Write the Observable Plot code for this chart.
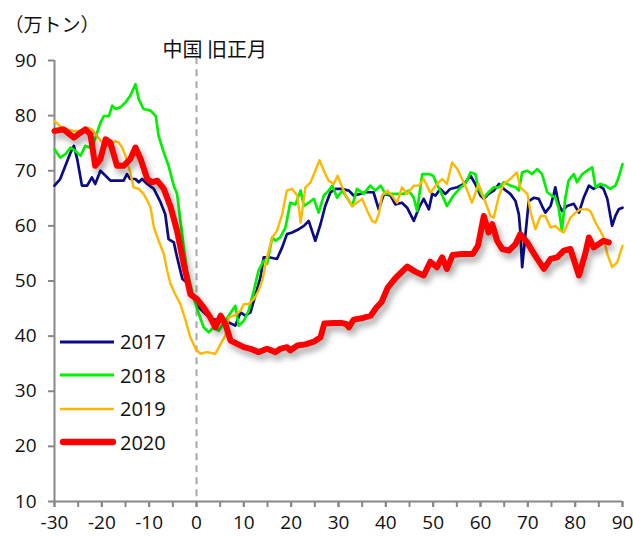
<!DOCTYPE html>
<html>
<head>
<meta charset="utf-8">
<script src="https://cdn.jsdelivr.net/npm/d3@7"></script>
<script src="https://cdn.jsdelivr.net/npm/@observablehq/plot@0.6"></script>
<style>
  html, body { margin: 0; padding: 0; background: #fff; }
  #wrap { position: relative; width: 633px; height: 539px; font-family: "Open Sans", "Noto Sans CJK JP", sans-serif; }
  #legend { position: absolute; left: 58px; top: 325px; }
  .row { display: flex; align-items: center; height: 33.5px; font-size: 20px; color: #111; }
  .row svg { width: 60px; height: 14px; margin-right: 2px; }
</style>
</head>
<body>
<div id="wrap"></div>
<script>
// Days relative to Chinese New Year (x) and weekly-ish volumes in 万トン (y)
const years = ["2017", "2018", "2019", "2020"];
const colors = ["#0b0b86", "#00f000", "#ffb800", "#ff0000"];
const widths = [2.7, 2.7, 2.4, 6];
const yTicks = [10, 20, 30, 40, 50, 60, 70, 80, 90];
const xLabelTicks = [-30, -20, -10, 0, 10, 20, 30, 40, 50, 60, 70, 80, 90];
const xMinorTicks = [-30,-25,-20,-15,-10,-5,0,5,10,15,20,25,30,35,40,45,50,55,60,65,70,75,80,85,90];
const unitLabel = "（万トン）";
const eventLabel = "中国 旧正月";

const s2017 = [[-30,67.3],[-28.8,68.5],[-27.7,70.9],[-26.6,73.3],[-25.9,74.5],[-25.2,72.1],[-24.2,67.3],[-23.1,67.3],[-22.1,68.8],[-21.4,67.6],[-20.3,70.0],[-19.2,69.1],[-18.2,68.2],[-16.8,68.2],[-15.4,68.2],[-14.7,69.4],[-14.0,68.5],[-12.9,68.5],[-12.2,67.9],[-11.5,68.5],[-10.4,67.6],[-9.0,66.7],[-7.6,64.3],[-6.6,62.1],[-5.9,57.6],[-4.8,57.0],[-4.1,54.3],[-3.0,50.4],[-2.0,49.7],[-0.9,47.3],[0.5,45.2],[1.9,44.0],[3.3,43.1],[5.1,42.8],[6.8,42.5],[8.2,41.9],[9.3,44.3],[10.3,43.7],[11.4,44.3],[12.4,47.3],[13.5,50.6],[14.2,54.3],[15.3,54.3],[17.0,54.0],[18.1,56.1],[19.1,58.5],[20.2,58.8],[21.6,59.4],[22.7,60.0],[23.7,60.9],[25.1,57.3],[26.2,60.3],[27.2,63.6],[28.3,66.1],[29.4,66.7],[30.8,66.7],[32.2,66.4],[33.2,65.5],[34.6,65.8],[35.7,66.1],[37.4,66.1],[38.5,63.0],[39.6,65.8],[41.0,65.5],[42.0,63.9],[43.4,64.2],[44.5,63.3],[45.9,60.9],[47.0,63.3],[48.0,64.9],[49.1,63.0],[49.8,65.8],[50.5,65.5],[51.5,66.7],[52.6,65.8],[53.6,66.7],[55.1,67.0],[56.5,67.6],[57.9,69.1],[58.9,67.6],[60.0,65.5],[60.7,64.9],[61.7,65.8],[62.8,66.4],[63.9,67.6],[64.9,66.7],[66.3,65.8],[67.4,64.5],[68.1,62.1],[68.4,59.1],[68.8,52.5],[69.5,58.5],[70.2,64.5],[71.3,65.1],[72.3,64.9],[73.0,63.6],[73.7,62.4],[74.8,63.6],[75.5,65.8],[75.8,67.0],[76.5,64.0],[77.2,62.7],[78.3,63.6],[79.7,64.0],[80.8,62.4],[81.8,65.1],[82.9,67.3],[83.9,66.7],[85.0,67.3],[86.0,66.7],[86.8,64.9],[87.8,60.0],[88.5,61.8],[89.2,63.0],[90,63.3]];

const s2018 = [[-30,73.9],[-28.8,72.4],[-27.7,73.0],[-26.6,74.2],[-25.6,73.6],[-24.5,72.7],[-23.5,74.5],[-22.4,74.2],[-21.7,75.1],[-21.0,76.9],[-20.3,78.7],[-19.6,79.9],[-18.5,79.9],[-17.8,81.8],[-17.1,81.2],[-16.1,81.5],[-15.0,82.4],[-14.0,83.6],[-12.9,85.7],[-12.2,83.0],[-11.2,81.2],[-9.7,80.9],[-8.6,79.9],[-8.0,76.3],[-6.9,73.3],[-5.9,70.9],[-4.8,67.3],[-4.1,65.8],[-3.4,60.9],[-2.7,56.1],[-2.0,51.9],[-0.6,47.0],[0.5,44.0],[1.5,41.6],[2.6,40.7],[3.6,41.6],[4.7,41.0],[6.1,42.8],[7.5,44.6],[8.2,45.5],[8.9,41.9],[10.0,42.8],[11.0,44.6],[12.1,48.2],[13.1,51.9],[14.2,53.7],[14.9,53.1],[16.0,57.9],[16.7,57.3],[17.7,57.9],[18.8,59.7],[19.8,64.2],[20.9,63.9],[22.0,66.4],[22.7,63.6],[23.7,64.2],[24.8,64.9],[25.8,62.4],[26.9,65.5],[27.9,66.4],[28.7,67.3],[29.7,65.1],[30.8,66.4],[31.8,65.1],[32.9,63.6],[33.9,66.7],[35.3,65.8],[36.7,67.3],[37.8,66.4],[38.9,67.3],[39.9,65.8],[41.3,65.8],[42.7,65.8],[43.8,65.8],[44.8,66.4],[45.9,65.1],[46.6,62.7],[47.7,69.4],[49.1,69.4],[50.0,69.1],[50.8,67.5],[51.5,66.4],[52.9,63.6],[54.3,65.5],[55.8,67.0],[56.8,67.6],[57.9,69.7],[58.9,69.4],[59.6,66.7],[60.7,65.1],[61.7,66.1],[62.8,67.0],[63.9,67.0],[64.9,67.9],[66.3,67.3],[67.4,67.0],[68.1,66.4],[68.8,69.7],[69.9,70.0],[70.9,69.4],[72.0,70.3],[73.0,69.4],[74.1,66.1],[75.1,65.5],[75.8,65.1],[76.5,63.3],[77.2,59.1],[77.9,64.9],[78.6,68.2],[79.7,69.4],[80.4,67.9],[81.5,69.4],[82.5,70.0],[83.6,70.6],[84.3,67.0],[85.3,67.6],[86.4,67.3],[87.4,66.7],[88.5,67.3],[89.2,68.8],[90,71.2]];

const s2019 = [[-30,79.0],[-28.8,78.1],[-27.3,77.5],[-25.9,77.2],[-24.5,77.2],[-23.1,77.8],[-22.1,77.5],[-21.0,76.3],[-19.9,75.1],[-18.5,74.5],[-17.1,75.4],[-16.4,75.1],[-15.7,74.2],[-15.0,72.7],[-14.0,69.7],[-13.3,67.0],[-12.2,66.7],[-11.2,65.8],[-10.4,64.6],[-9.7,63.3],[-9.0,59.7],[-8.0,57.3],[-6.9,54.9],[-6.2,51.9],[-5.5,49.5],[-4.5,47.6],[-3.4,45.8],[-2.3,42.8],[-1.3,39.8],[-0.2,37.7],[0.8,36.8],[2.2,37.1],[4.0,36.8],[5.1,38.6],[6.1,40.1],[6.8,43.4],[7.9,43.7],[9.3,44.6],[10.0,45.8],[11.0,45.8],[12.1,46.7],[13.1,48.2],[13.9,50.1],[14.9,54.3],[16.0,57.9],[17.0,59.1],[18.1,62.1],[19.1,66.4],[20.2,66.7],[21.3,65.5],[22.0,60.6],[23.0,67.0],[24.1,67.9],[25.1,70.0],[26.0,71.9],[26.9,70.0],[27.9,68.2],[29.0,67.6],[29.8,69.1],[30.8,67.0],[31.8,65.1],[32.9,63.6],[33.9,64.2],[35.0,64.9],[36.1,62.7],[37.1,60.9],[37.8,60.6],[38.5,62.1],[39.2,65.5],[40.3,66.4],[41.3,65.5],[42.4,64.2],[43.4,67.0],[44.5,65.8],[45.9,67.3],[47.0,67.3],[48.0,68.5],[49.4,66.0],[50.8,67.6],[51.9,68.5],[52.9,67.6],[54.0,71.5],[55.1,70.3],[56.1,68.5],[57.2,66.4],[58.2,64.2],[59.6,67.6],[60.7,65.1],[62.1,61.8],[62.8,61.5],[63.9,65.5],[64.9,67.6],[66.3,68.5],[67.7,69.7],[68.4,67.0],[69.9,65.8],[70.6,62.4],[71.6,59.4],[72.7,61.8],[73.7,61.8],[74.8,59.7],[75.8,60.0],[76.9,59.1],[77.6,58.8],[79.0,61.5],[80.1,62.4],[81.1,63.0],[82.5,63.0],[83.2,62.7],[84.3,60.6],[85.3,59.1],[86.0,57.9],[86.8,54.9],[87.8,52.5],[88.9,53.4],[90,56.4]];

const s2020 = [[-30,77.2],[-28.1,77.5],[-25.9,76.0],[-24.5,76.9],[-23.5,77.5],[-22.4,76.6],[-21.4,70.9],[-20.3,72.1],[-19.2,75.7],[-18.2,75.1],[-16.8,70.9],[-15.4,70.9],[-14.0,72.1],[-12.9,74.2],[-11.8,72.1],[-10.4,68.5],[-9.4,67.9],[-8.3,68.2],[-6.9,66.7],[-5.5,63.5],[-4.1,59.1],[-2.7,53.1],[-1.3,47.6],[0.1,46.7],[1.5,45.2],[2.9,43.4],[4.0,41.6],[5.1,43.7],[6.1,42.2],[7.2,39.2],[8.6,38.6],[10.0,38.0],[11.4,37.7],[13.1,37.1],[14.9,37.7],[16.7,37.1],[17.7,37.7],[19.1,38.0],[19.8,37.4],[21.3,38.3],[23.0,38.5],[24.8,39.0],[26.2,39.8],[27.0,42.3],[29.0,42.4],[30.6,42.4],[31.6,42.2],[32.2,41.6],[33.2,43.0],[35.2,43.3],[36.8,43.7],[38.0,45.2],[39.1,46.2],[40.4,48.8],[42.0,50.5],[44.5,52.6],[46.2,51.7],[48.0,51.0],[49.4,53.5],[50.8,52.5],[51.9,54.3],[52.9,52.2],[54.1,54.7],[56.0,54.9],[58.4,54.9],[59.5,56.5],[60.7,61.8],[61.7,58.8],[62.5,60.3],[63.5,57.3],[64.6,55.8],[66.0,55.5],[67.4,56.7],[68.4,58.5],[69.9,57.0],[70.9,55.5],[72.0,54.0],[73.4,52.2],[74.8,54.0],[76.2,54.3],[77.6,55.5],[79.0,55.8],[80.8,51.0],[82.2,55.2],[82.9,57.9],[83.9,56.1],[85.0,56.7],[86.0,57.3],[87.1,57.0]];

const seriesData = [s2017, s2018, s2019, s2020];
const rows = years.flatMap((yr, i) => seriesData[i].map(([d, v]) => ({year: yr, d, v})));

const lineMarks = years.map((yr, i) =>
  Plot.line(rows.filter(r => r.year === yr), {
    x: "d", y: "v", stroke: colors[i], strokeWidth: widths[i],
    strokeLinejoin: "round", strokeLinecap: "round"
  })
);

const chart = Plot.plot({
  width: 633,
  height: 539,
  marginLeft: 54,
  marginRight: 11,
  marginTop: 60,
  marginBottom: 38,
  x: {domain: [-30, 90]},
  y: {domain: [10, 90]},
  style: {fontFamily: "'Open Sans', 'Noto Sans CJK JP', sans-serif", fontSize: "19px", color: "#111", background: "#fff", overflow: "visible"},
  marks: [
    Plot.ruleX([0], {y1: 90.5, y2: 10, stroke: "#a8a8a8", strokeWidth: 2, strokeDasharray: "7,5"}),
    Plot.axisX({ticks: xMinorTicks, tickSize: 6, tickFormat: () => "", stroke: "#888", strokeWidth: 2, label: null}),
    Plot.axisX({ticks: xLabelTicks, tickSize: 6, tickPadding: 8, tickFormat: d => String(d), stroke: "#888", strokeWidth: 2, fontSize: 19, label: null}),
    Plot.axisY({ticks: yTicks, tickSize: 6, tickPadding: 12, tickFormat: d => String(d), stroke: "#888", strokeWidth: 2, fontSize: 19, label: null}),
    Plot.ruleX([-30], {stroke: "#888", strokeWidth: 2}),
    Plot.ruleY([10], {stroke: "#888", strokeWidth: 2}),
    ...lineMarks,
    Plot.text([unitLabel], {frameAnchor: "top-left", dx: -50, dy: -42, textAnchor: "start", fontSize: 19, fontFamily: "'Noto Sans CJK JP', sans-serif", fill: "#111"}),
    Plot.text([eventLabel], {x: [0], frameAnchor: "top", dx: -34, dy: -18, textAnchor: "start", fontSize: 20, fontFamily: "'Noto Sans CJK JP', sans-serif", fill: "#111"})
  ]
});

// soft shadow under the 2020 line
const lineGroups = chart.querySelectorAll('g[aria-label="line"]');
if (lineGroups.length) {
  lineGroups[lineGroups.length - 1].setAttribute("style", "filter: drop-shadow(3px 5px 3px rgba(0,0,0,0.35));");
}

const wrap = document.getElementById("wrap");
wrap.appendChild(chart);

// legend
const legend = document.createElement("div");
legend.id = "legend";
years.forEach((yr, i) => {
  const row = document.createElement("div");
  row.className = "row";
  row.innerHTML = `<svg viewBox="0 0 60 14"><line x1="${widths[i] > 4 ? 5 : 2}" y1="7" x2="${widths[i] > 4 ? 55 : 56}" y2="7" stroke="${colors[i]}" stroke-width="${widths[i] + 0.3}" stroke-linecap="${widths[i] > 4 ? "round" : "butt"}"/></svg><span>${yr}</span>`;
  legend.appendChild(row);
});
wrap.appendChild(legend);
</script>
</body>
</html>
